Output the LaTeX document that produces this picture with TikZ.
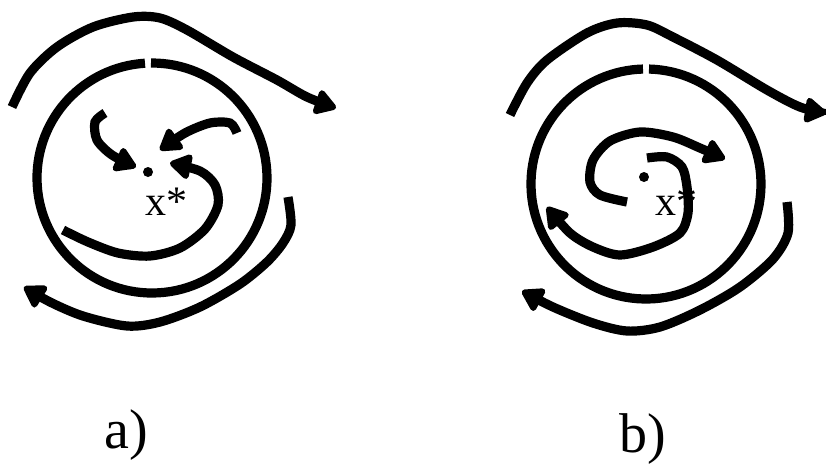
\documentclass[tikz,border=0pt]{standalone}
\usepackage{fontspec}
\setmainfont{Liberation Serif}
\usetikzlibrary{arrows.meta}
\tikzset{
  orbit/.style={line width=4.6pt},
  flow/.style={line width=4.6pt, -{Triangle[length=12pt,width=14pt,line width=3pt,round]}},
  tag/.style={anchor=base west, inner sep=0pt, font=\fontsize{21}{23}\selectfont},
  caption/.style={anchor=base west, inner sep=0pt, font=\fontsize{28}{30}\selectfont}
}
\begin{document}
\begin{tikzpicture}[x=0.5pt,y=0.5pt,yscale=-1]
        \useasboundingbox (0,0) rectangle (826,463);
        % define point
        \coordinate (Ca) at (152,178);
        \coordinate (Cb) at (646,184);
        \coordinate (Pa) at (148,172);
        \coordinate (Pb) at (644,177);
        % panel a
        \draw[orbit] (Ca) ++(269.5:115) arc[start angle=269.5, end angle=626.5, radius=115];
        \draw[flow] plot[smooth] coordinates {(12,107) (30,73) (57,47) (93,27) (133,17) (160,18)
          (187,30) (233,57) (277,80) (307,97) (336,108)};
        \draw[flow] plot[smooth] coordinates {(288,197) (291,225) (283,243) (267,262) (240,284)
          (200,307) (160,322) (127,326) (83,316) (50,302) (24,287)};
        \draw[flow] plot[smooth] coordinates {(105,113) (95,122) (97,140) (112,155) (136,167)};
        \draw[flow] plot[smooth] coordinates {(237,133) (230,123) (210,123) (185,133) (160,150)};
        \draw[flow] plot[smooth] coordinates {(63,230) (88,242) (118,253) (150,256) (180,248)
          (205,229) (218,205) (215,185) (200,171) (170,163)};
        \fill (Pa) circle (2.5pt);
        \node[tag] (xa) at (145,215) {x*};
        % panel b
        \node[tag] (xb) at (655,215) {x*};
        \draw[orbit] (Cb) ++(271.5:115) arc[start angle=271.5, end angle=628.5, radius=115];
        \draw[flow] plot[smooth] coordinates {(510,115) (527,83) (547,60) (587,33) (617,23) (647,25)
          (673,37) (717,60) (767,90) (800,107) (826,113)};
        \draw[flow] plot[smooth] coordinates {(787,202) (788,233) (773,259) (740,287) (700,310)
          (660,327) (627,331) (593,323) (553,307) (522,291)};
        \draw[flow] plot[smooth] coordinates {(627,202) (600,195) (590,182) (593,160) (610,141)
          (640,132) (673,137) (700,148) (725,159)};
        \draw[flow] plot[smooth] coordinates {(647,158) (667,157) (682,167) (687,187) (688,213)
          (680,233) (653,247) (620,255) (593,247) (570,233) (547,207)};
        \fill (Pb) circle (2.5pt);
        % labels
        \node[caption] (la) at (104,448) {a)};
        \node[caption] (lb) at (619,452) {b)};
    \end{tikzpicture}
\end{document}
